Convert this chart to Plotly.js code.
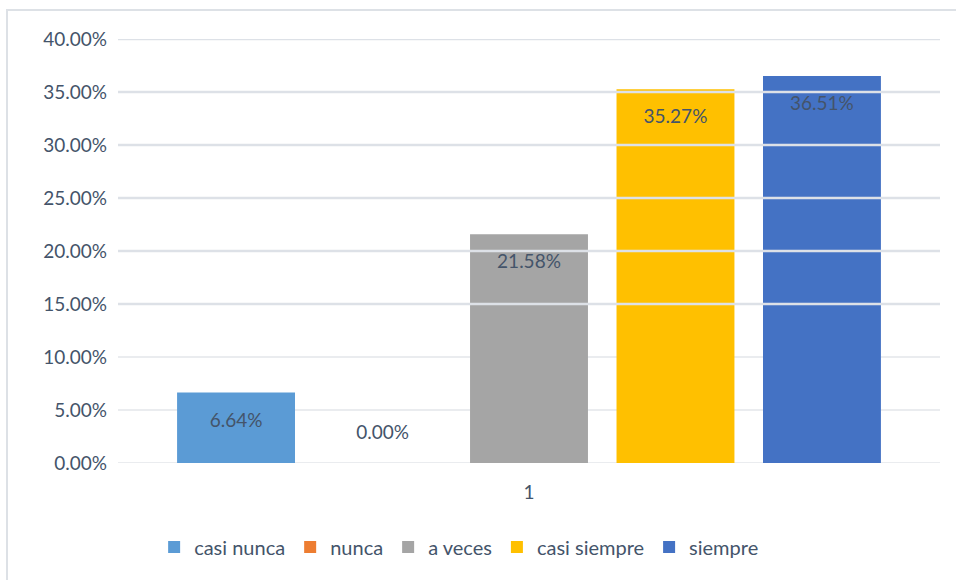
<!DOCTYPE html>
<html>
<head>
<meta charset="utf-8">
<script src="https://cdn.plot.ly/plotly-3.0.1.min.js"></script>
<style>
  html, body { margin: 0; padding: 0; background: #ffffff; overflow: hidden; }
  #frame { position: absolute; left: 6px; top: 9px; width: 1000px; height: 620px;
           border-top: 2px solid #dde1e6; border-left: 2px solid #dde1e6; }
  #chart { position: absolute; left: 0; top: 0; width: 956px; height: 580px; }
</style>
</head>
<body>
<div id="frame"></div>
<div id="chart"></div>
<script>
const categories = ["1"];
const seriesNames = ["casi nunca", "nunca", "a veces", "casi siempre", "siempre"];
const seriesValues = [[0.0664], [0.0000], [0.2158], [0.3527], [0.3651]];
const seriesColors = ["#5b9bd5", "#ed7d31", "#a5a5a5", "#ffc000", "#4472c4"];
const yTicks = [0, 0.05, 0.10, 0.15, 0.20, 0.25, 0.30, 0.35, 0.40];

const textColor = "#44546a";
const fontFam = "Lato, 'Open Sans', sans-serif";
const GAP = 0.109;

const barTraces = seriesNames.map((name, i) => ({
  type: "bar",
  name: name,
  x: categories,
  y: seriesValues[i],
  marker: { color: seriesColors[i], line: { width: 0 } },
  hoverinfo: "skip"
}));

const labelTraces = seriesNames.map((name, i) => ({
  type: "scatter",
  mode: "markers+text",
  name: name + " label",
  showlegend: false,
  x: categories,
  y: seriesValues[i],
  text: seriesValues[i].map(v => (v * 100).toFixed(2) + "%"),
  textposition: seriesValues[i][0] === 0 ? "top center" : "bottom center",
  marker: { size: 30, color: "rgba(0,0,0,0)" },
  cliponaxis: false,
  textfont: { family: fontFam, size: 19, color: textColor },
  hoverinfo: "skip"
}));

const gridShapes = yTicks.map(v => ({
  type: "line", xref: "paper", yref: "y",
  x0: 0, x1: 1, y0: v, y1: v,
  line: { color: v >= 0.15 ? "#dde1e7" : "#e3e6ea", width: v >= 0.15 ? 2.5 : 1.5 },
  layer: v >= 0.15 ? "above" : "below"
}));

const layout = {
  width: 956, height: 580,
  margin: { l: 118, r: 16, t: 39, b: 117 },
  paper_bgcolor: "rgba(0,0,0,0)",
  plot_bgcolor: "rgba(0,0,0,0)",
  barmode: "group",
  bargap: GAP,
  bargroupgap: 0.195,
  scattermode: "group",
  scattergap: GAP,
  showlegend: true,
  legend: {
    orientation: "h", x: 0.415, xanchor: "center", y: -0.198, yanchor: "middle",
    font: { family: fontFam, size: 20, color: textColor },
    itemwidth: 30, tracegroupgap: 0
  },
  xaxis: {
    type: "category",
    showgrid: false, zeroline: false, showline: false,
    ticks: "", ticklabelstandoff: 16,
    tickfont: { family: fontFam, size: 19, color: textColor }
  },
  yaxis: {
    range: [0, 0.40],
    tickvals: yTicks,
    tickformat: ".2%",
    showgrid: false, zeroline: false, showline: false,
    ticks: "", ticklabelstandoff: 10,
    tickfont: { family: fontFam, size: 19, color: textColor }
  },
  shapes: gridShapes
};

Plotly.newPlot("chart", barTraces.concat(labelTraces), layout, { displayModeBar: false, staticPlot: true });
</script>
</body>
</html>
